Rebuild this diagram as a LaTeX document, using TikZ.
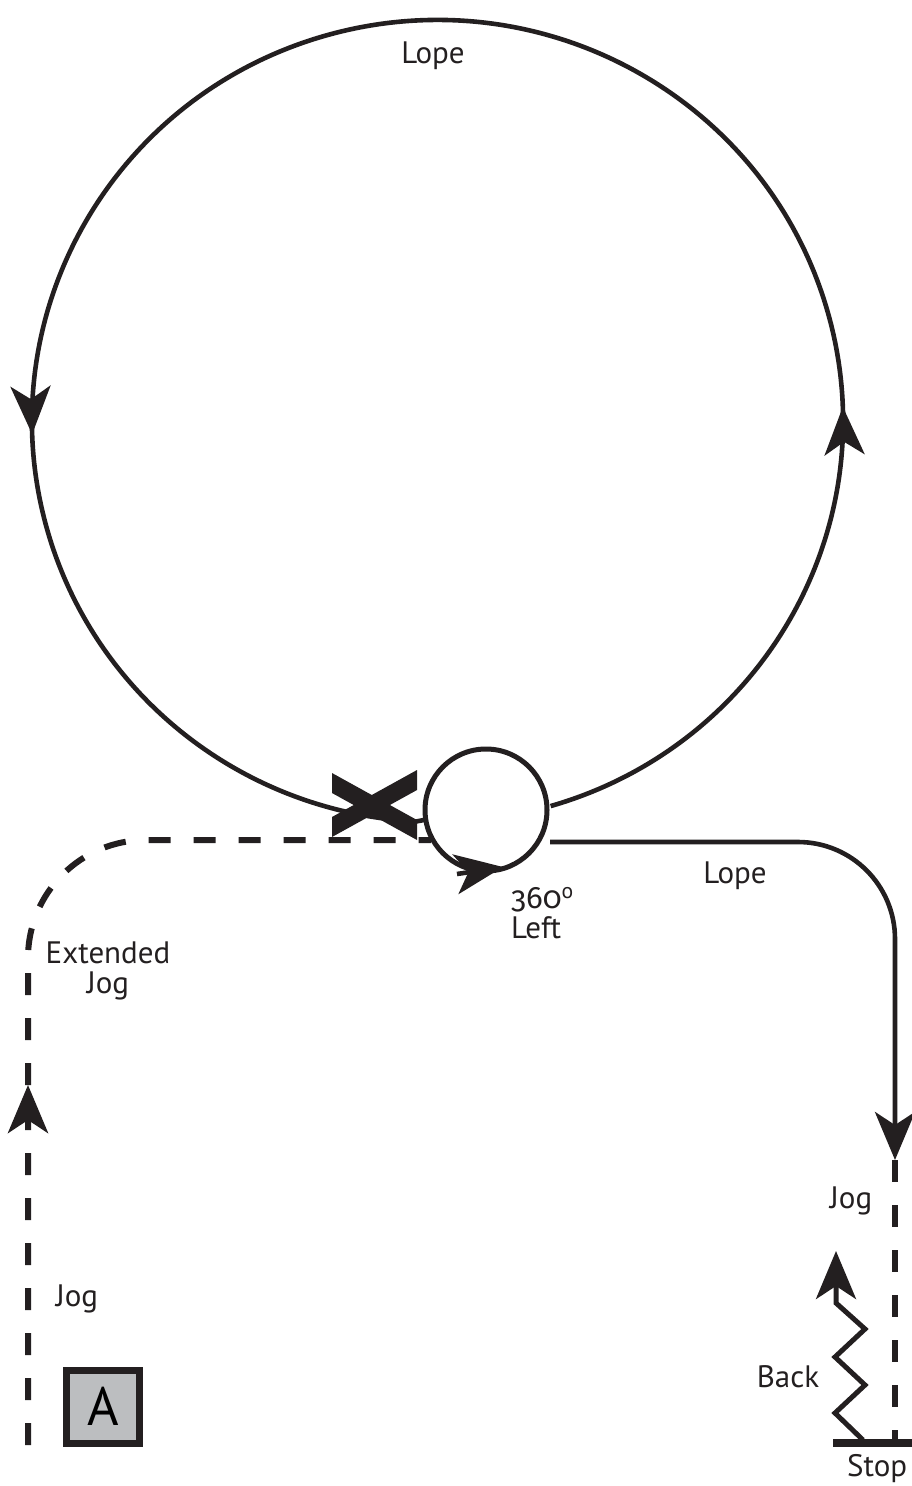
\documentclass[tikz,border=0pt]{standalone}
\usepackage{fontspec}
\setmainfont{PT Sans}
\newfontfamily\onumfont[Numbers=OldStyle]{Fira Sans}
\usetikzlibrary{arrows.meta,decorations.markings}
\definecolor{patInk}{HTML}{231F20}
\definecolor{patGrey}{HTML}{BCBEC0}
\tikzset{
  bigtip/.tip    = {Stealth[length=48pt, width=40pt, inset=13pt]},
  lope/.style    = {draw=patInk, line width=4.6pt},
  jogline/.style = {draw=patInk, line width=6pt, dash pattern=on 22pt off 23pt},
  backline/.style= {draw=patInk, line width=5pt, -{bigtip}},
  stopbar/.style = {draw=patInk, line width=8pt},
  marker/.style  = {draw=patInk, line width=7pt, fill=patGrey, minimum size=73pt,
                    inner sep=0pt, font=\fontsize{54}{54}\selectfont},
  lbl/.style     = {font=\fontsize{31}{30}\selectfont, text=patInk, inner sep=0pt, align=center},
  tipat/.style   = {postaction=decorate, decoration={markings,
                    mark=at position #1 with {\arrow{bigtip}}}},
}

\begin{document}
\begin{tikzpicture}[x=1pt, y=-1pt]
  \useasboundingbox (0,0) rectangle (911,1486);
  \coordinate (bigc) at (437.5,421);
  \coordinate (spin) at (486,810);
  \coordinate (spinW) at (424,820);
  \coordinate (spinTail) at (457,874);
  \coordinate (spinTip) at (503,867);
  \coordinate (jogW) at (431,840);
  \coordinate (exitR) at (550,842);
  \coordinate (jogTop) at (895,1160);
  \coordinate (stopPt) at (895,1443);
  \coordinate (startA) at (28,1445);

  % large lope circle
  \draw[lope, postaction=decorate, decoration={markings,
        mark=at position 533pt with {\arrow{bigtip}},
        mark=at position 1799pt with {\arrow{bigtip}}}]
    ([shift={(73.8:405.5 and 401)}]bigc)
      arc[start angle=73.8, end angle=-267, x radius=405.5, y radius=401] -- (spinW);

  % 360 left
  \draw[lope, line width=5pt] (spin) circle[radius=61];
  \draw[lope, -{bigtip}] (spinTail) -- (spinTip);

  % the X
  \fill[patInk] (332,773) -- (332,793) -- (417,840) -- (417,820) -- cycle;
  \fill[patInk] (332,817) -- (332,837) -- (417,790) -- (417,770) -- cycle;

  % extended jog
  \draw[jogline, rounded corners=118, tipat=360pt] (startA) |- (jogW);

  % lope to stop
  \draw[lope, rounded corners=97, -{bigtip}] (exitR) -| (jogTop);
  \draw[jogline] (jogTop) -- (stopPt);
  \draw[stopbar] (833,1443) coordinate (stopL) -- (920,1443) coordinate (stopR);
  \draw[backline] (863,1440) -- (835,1413) -- (865,1385) -- (835,1357)
    -- (865,1329) -- (836,1303) -- (836,1251);

  \node[marker] (boxA) at (103,1406.5) {A};

  \node[lbl, anchor=base] (lopeTop) at (433,63) {Lope};
  \node[lbl, anchor=base] (lopeBot) at (735,883) {Lope};
  \node[lbl, anchor=base west] (turnDeg) at (511,908) {{\onumfont 360}\textsuperscript{o}};
  \node[lbl, anchor=base west] (turnDir) at (511,938) {Left};
  \node[lbl, anchor=base] (extJog) at (108,963) {Extended};
  \node[lbl, anchor=base] (extJog2) at (108,993) {Jog};
  \node[lbl, anchor=base] (jogA) at (77,1306) {Jog};
  \node[lbl, anchor=base] (jogB) at (851,1208) {Jog};
  \node[lbl, anchor=base] (backLbl) at (788,1387) {Back};
  \node[lbl, anchor=base west] (stopLbl) at (847,1476) {Stop};
\end{tikzpicture}
\end{document}
